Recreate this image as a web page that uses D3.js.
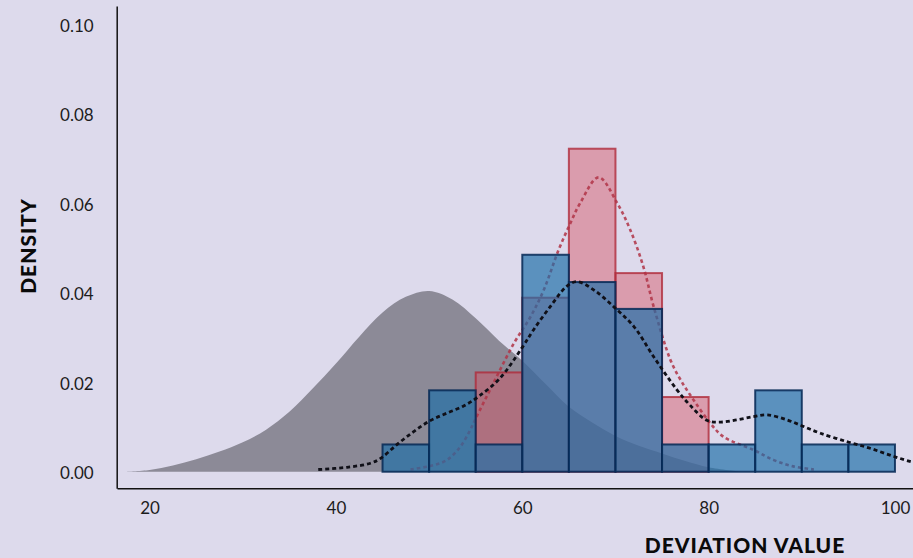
<!DOCTYPE html>
<html>
<head>
<meta charset="utf-8">
<script src="https://cdn.jsdelivr.net/npm/d3@7"></script>
<style>
    body { margin: 0; background: #dddaec; }
    svg { display: block; }
    .tick text { font-family: Lato, sans-serif; font-size: 17px; fill: #1c1c1c; }
    .axis-title { font-family: Lato, sans-serif; font-weight: 900; font-size: 21px; fill: #0a0a0a; letter-spacing: 1px; }
</style>
</head>
<body>
<svg id="chart"></svg>
<script>
// histogram bins (left edges), width 5
const blueBins   = [45, 50, 55, 60, 65, 70, 75, 80, 85, 90, 95];
const blueDens   = [0.0061, 0.0182, 0.0061, 0.0485, 0.0424, 0.0364, 0.0061, 0.0061, 0.0182, 0.0061, 0.0061];
const redBins    = [55, 60, 65, 70, 75];
const redDens    = [0.0222, 0.0389, 0.0722, 0.0444, 0.0167];
const binWidth   = 5;

// reference curve (filled grey)
const refX = [17.2, 20, 22.5, 25, 27.5, 30, 32.5, 35, 37.5, 40, 42.5, 45, 47.5, 50, 52.5, 55, 57.5, 60, 62.5, 65, 67.5, 70, 72.5, 75, 77.5, 80, 83.5];
const refY = [0, 0.0004, 0.0014, 0.0028, 0.0045, 0.0066, 0.0094, 0.0134, 0.0186, 0.0242, 0.0302, 0.0356, 0.0391, 0.0404, 0.0385, 0.0343, 0.0293, 0.0248, 0.0196, 0.0145, 0.011, 0.008, 0.0058, 0.0041, 0.0024, 0.001, 0];

// kde of the blue sample (black dotted)
const blueKdeX = [38.1, 41.2, 43.7, 44.8, 46.5, 48.3, 50.1, 51.9, 53.7, 55.3, 57.6, 60, 61.2, 63, 64.8, 65.9, 67.7, 69.8, 72, 74.1, 76.6, 78, 79.8, 81.3, 83, 84.8, 86.3, 88.4, 90.2, 92, 94.9, 97.4, 99.9, 101.8, 103];
const blueKdeY = [0.0005, 0.001, 0.0019, 0.003, 0.006, 0.0089, 0.0114, 0.0131, 0.0147, 0.0168, 0.0209, 0.0278, 0.0317, 0.0369, 0.0415, 0.0425, 0.0406, 0.0369, 0.0324, 0.0257, 0.0183, 0.0149, 0.0115, 0.0111, 0.0116, 0.0123, 0.0127, 0.0116, 0.0101, 0.0086, 0.0067, 0.0052, 0.0034, 0.0022, 0.0016];

// kde of the red sample (red dotted)
const redKdeX = [48, 50.1, 51.9, 53.35, 54.4, 55, 56.9, 59.1, 60.9, 62.3, 63.9, 65.15, 66.2, 68.2, 70.2, 71.6, 73, 74.1, 75.9, 77, 78.4, 80.2, 81.6, 84.8, 87, 89.1, 91.3];
const redKdeY = [0.0005, 0.0013, 0.0026, 0.0056, 0.0093, 0.0119, 0.0198, 0.0287, 0.0347, 0.0406, 0.0496, 0.0555, 0.06, 0.0658, 0.06, 0.054, 0.0458, 0.0369, 0.025, 0.0205, 0.016, 0.0108, 0.0078, 0.0049, 0.0026, 0.0012, 0.0005];

const xTicks = [20, 40, 60, 80, 100];
const yTicks = [0, 0.02, 0.04, 0.06, 0.08, 0.10];

const width = 913, height = 558;

const svg = d3.select("#chart")
    .attr("width", width)
    .attr("height", height);

// scales
const x = d3.scaleLinear().domain([16.5, 102.0]).range([117, 913.6]);
const y = d3.scaleLinear().domain([-0.0037, 0.1041]).range([488.3, 6]);

const zip = (xs, ys) => xs.map((v, i) => [v, ys[i]]);

// grey reference area
const area = d3.area()
    .x(d => x(d[0]))
    .y0(y(0))
    .y1(d => y(d[1]))
    .curve(d3.curveCatmullRom.alpha(0.5));

svg.append("path")
    .datum(zip(refX, refY))
    .attr("d", area)
    .attr("fill", "#8c8a97");

// red histogram
svg.append("g").selectAll("rect")
    .data(zip(redBins, redDens))
    .join("rect")
    .attr("x", d => x(d[0]))
    .attr("width", d => x(d[0] + binWidth) - x(d[0]))
    .attr("y", d => y(d[1]))
    .attr("height", d => y(0) - y(d[1]))
    .attr("fill", "rgba(214, 80, 98, 0.45)")
    .attr("stroke", "rgba(175, 42, 58, 0.8)")
    .attr("stroke-width", 2);

const line = d3.line()
    .x(d => x(d[0]))
    .y(d => y(d[1]))
    .curve(d3.curveCatmullRom.alpha(0.5));

// red kde
svg.append("path")
    .datum(zip(redKdeX, redKdeY))
    .attr("d", line)
    .attr("fill", "none")
    .attr("stroke", "rgba(176, 52, 70, 0.85)")
    .attr("stroke-width", 2.6)
    .attr("stroke-dasharray", "3.5,3");

// blue histogram
svg.append("g").selectAll("rect")
    .data(zip(blueBins, blueDens))
    .join("rect")
    .attr("x", d => x(d[0]))
    .attr("width", d => x(d[0] + binWidth) - x(d[0]))
    .attr("y", d => y(d[1]))
    .attr("height", d => y(0) - y(d[1]))
    .attr("fill", "rgba(30, 110, 168, 0.68)")
    .attr("stroke", "rgba(5, 40, 85, 0.85)")
    .attr("stroke-width", 2);

// blue kde (black dotted)
svg.append("path")
    .datum(zip(blueKdeX, blueKdeY))
    .attr("d", line)
    .attr("fill", "none")
    .attr("stroke", "#101018")
    .attr("stroke-width", 2.8)
    .attr("stroke-dasharray", "4,3");

// axes
const xAxis = d3.axisBottom(x).tickValues(xTicks).tickSize(0).tickSizeOuter(0).tickPadding(13.5);
const yAxis = d3.axisLeft(y).tickValues(yTicks).tickSize(0).tickSizeOuter(0).tickPadding(23)
    .tickFormat(d3.format(".2f"));

const gx = svg.append("g")
    .attr("transform", "translate(0,488.3)")
    .call(xAxis);

const gy = svg.append("g")
    .attr("transform", "translate(116.7,0)")
    .call(yAxis);

gy.selectAll(".tick text").attr("dy", "0.42em");

[gx, gy].forEach(g => {
    g.attr("font-family", null).attr("font-size", null);
    g.select(".domain").attr("stroke", "#111").attr("stroke-width", 1.5);
});

// axis titles
svg.append("text")
    .attr("class", "axis-title")
    .attr("x", 745)
    .attr("y", 553)
    .attr("text-anchor", "middle")
    .text("DEVIATION VALUE");

svg.append("text")
    .attr("class", "axis-title")
    .attr("transform", "translate(36,246) rotate(-90)")
    .attr("text-anchor", "middle")
    .text("DENSITY");
</script>
</body>
</html>
